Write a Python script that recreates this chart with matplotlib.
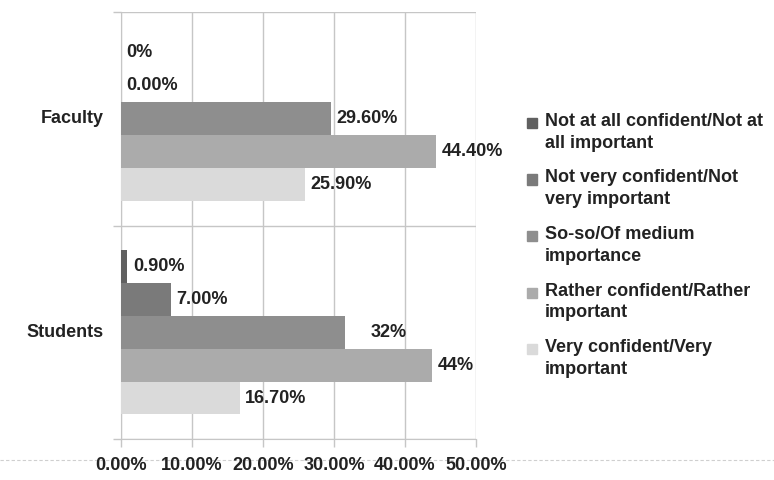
import matplotlib
matplotlib.use("Agg")
import matplotlib.pyplot as plt
from matplotlib.lines import Line2D
from matplotlib.patches import Rectangle

plt.rcParams['font.family'] = ['Liberation Sans', 'DejaVu Sans']

groups = ["Students", "Faculty"]
series = ["Not at all confident/Not at\nall important",
          "Not very confident/Not\nvery important",
          "So-so/Of medium\nimportance",
          "Rather confident/Rather\nimportant",
          "Very confident/Very\nimportant"]
colors = ["#606060", "#7a7a7a", "#8e8e8e", "#ababab", "#dadada"]

# values[group][series]
students = [0.9, 7.0, 31.6, 43.8, 16.7]
faculty = [0.0, 0.0, 29.6, 44.4, 25.9]
students_lbl = ["0.90%", "7.00%", "32%", "44%", "16.70%"]
faculty_lbl = ["0%", "0.00%", "29.60%", "44.40%", "25.90%"]
xticks = [0, 10, 20, 30, 40, 50]
xtick_lbl = ["0.00%", "10.00%", "20.00%", "30.00%", "40.00%", "50.00%"]

fig = plt.figure(figsize=(7.74, 4.8), dpi=100)
ax = fig.add_axes([121/774, 1-439/480, (476-121)/774, (439-12)/480])

bh = 0.154
grid_c = "#c6c6c6"
fs = 13
vals = [students, faculty]
lbls = [students_lbl, faculty_lbl]
for g in range(2):
    for i in range(5):
        y = g + 0.5 + (2 - i) * bh
        ax.barh(y, vals[g][i], height=bh, color=colors[i], zorder=3)
        off = 0.8
        if lbls[g][i] == "32%":
            off = 3.5
        ax.text(vals[g][i] + off, y, lbls[g][i], va="center", ha="left",
                fontsize=fs, fontweight="bold", color="#222222", zorder=4)

ax.set_xlim(0, 50)
ax.set_ylim(0, 2)
ax.set_xticks(xticks)
ax.set_xticklabels(xtick_lbl, fontsize=fs, fontweight="bold", color="#222222")
ax.set_yticks([0, 1, 2])
ax.set_yticklabels([])
ax.tick_params(axis="both", length=6, color=grid_c, width=1)
ax.tick_params(axis="x", pad=7)
ax.grid(True, color=grid_c, lw=1, zorder=0)
for s in ax.spines.values():
    s.set_visible(False)
ax.spines["left"].set_visible(True)
ax.spines["left"].set_color(grid_c)
ax.spines["bottom"].set_visible(True)
ax.spines["bottom"].set_color(grid_c)

for g in range(2):
    ax.text(-0.05, (g + 0.5) / 2, groups[g], transform=ax.transAxes,
            ha="right", va="center", fontsize=fs, fontweight="bold", color="#222222")

# dashed line behind tick labels
fig.add_artist(Line2D([0.0, 1.0], [1-460/480, 1-460/480], transform=fig.transFigure,
                      color="#cfcfcf", lw=0.8, ls=(0, (3, 2)), zorder=0))

# legend
for i in range(5):
    yc = 123 + 56.5 * i
    fig.add_artist(Rectangle((527/774, 1-(yc+5)/480), 10/774, 10/480,
                             transform=fig.transFigure, color=colors[i]))
    fig.text(545/774, 1-(yc-10)/480, series[i], ha="left", va="top",
             fontsize=fs, fontweight="bold", color="#222222", linespacing=1.37)

fig.savefig("out.png", dpi=100)
